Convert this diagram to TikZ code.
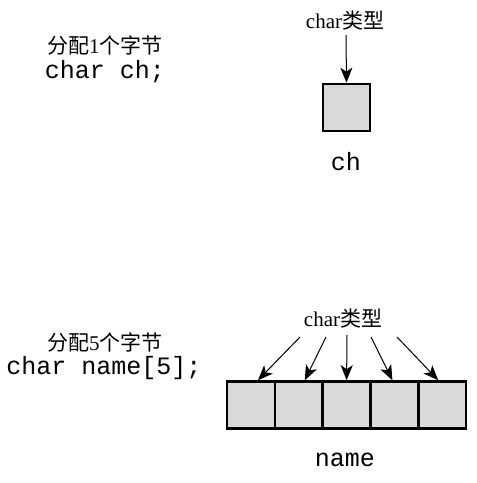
\documentclass[tikz,border=0pt]{standalone}
\usepackage{fontspec}
\setmainfont{Liberation Serif}
\setmonofont{Liberation Mono}
\newfontfamily\cjk{Noto Sans CJK SC}
\usetikzlibrary{arrows.meta}
\tikzset{
  lbl/.style={inner sep=0pt, font=\fontsize{21}{23}\selectfont},
  code/.style={inner sep=0pt, font=\fontsize{25}{27}\selectfont\ttfamily},
  cell/.style={draw=black, line width=2.6pt, fill=gray!30, minimum width=47.8pt, minimum height=47pt, inner sep=0pt},
  ptr/.style={line width=1pt, -{Stealth[length=15pt,width=12pt,inset=4pt]}}
}
\begin{document}
\begin{tikzpicture}[x=1pt,y=-1pt]
\useasboundingbox (0,0) rectangle (477,483);
% top part
\node[lbl] (d1) at (105,45) {{\cjk 分配}1{\cjk 个字节}};
\node[code] (c1) at (105,72) {char ch;};
\node[lbl] (t1) at (345,21) {char{\cjk 类型}};
\node[cell, minimum width=47pt] (b) at (346.5,107.5) {};
\node[code] (n1) at (346,162) {ch};
\coordinate (a0) at (346,35);
\draw[ptr] (a0) -- (b.north);
% bottom part
\node[lbl] (d2) at (105,342) {{\cjk 分配}5{\cjk 个字节}};
\node[code] (c2) at (104,368) {char name[5];};
\node[lbl] (t2) at (343,319) {char{\cjk 类型}};
\foreach \i/\x in {1/251,2/298.8,3/346.6,4/394.4,5/442.2}{
  \node[cell] (k\i) at (\x,405) {};
}
\node[code] (n2) at (345,460) {name};
\coordinate (s1) at (300,337);
\coordinate (s2) at (326,337);
\coordinate (s3) at (347,335);
\coordinate (s4) at (371,337);
\coordinate (s5) at (397,337);
\draw[ptr] (s1) -- ([xshift=7pt]k1.north);
\draw[ptr] (s2) -- ([xshift=6pt]k2.north);
\draw[ptr] (s3) -- (k3.north);
\draw[ptr] (s4) -- ([xshift=-2pt]k4.north);
\draw[ptr] (s5) -- ([xshift=-4pt]k5.north);
\end{tikzpicture}
\end{document}
